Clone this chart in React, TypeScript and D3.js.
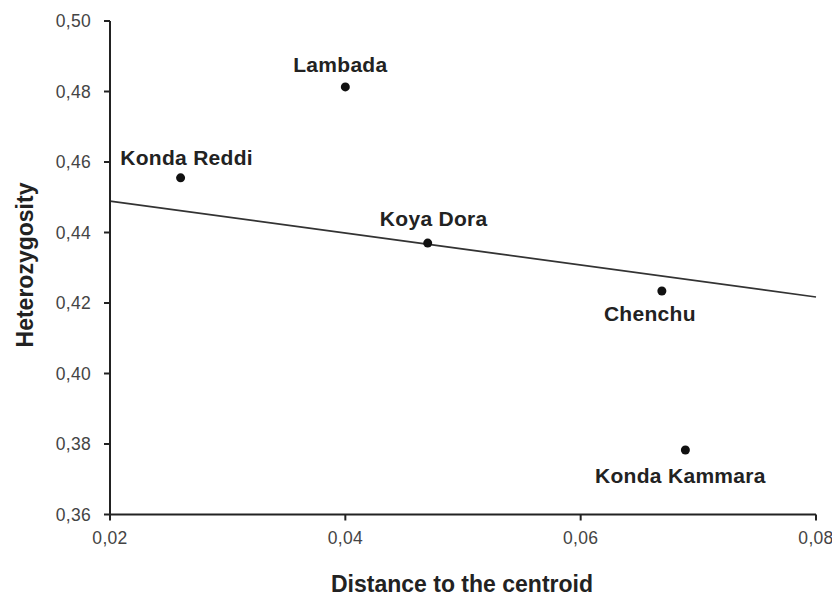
import React from "react";
import * as d3 from "d3";

const populations = ["Lambada", "Konda Reddi", "Koya Dora", "Chenchu", "Konda Kammara"];
const distance = [0.040, 0.026, 0.047, 0.0669, 0.0689];
const heterozygosity = [0.4813, 0.4555, 0.437, 0.4234, 0.3783];
const xTicks = [0.02, 0.04, 0.06, 0.08];
const yTicks = [0.36, 0.38, 0.40, 0.42, 0.44, 0.46, 0.48, 0.50];
const trendX = [0.02, 0.08];
const trendY = [0.4489, 0.4217];
const labelOffsets: [number, number][] = [[-5, -15], [6, -13], [6, -17], [-12, 30], [-5, 33]];

const W = 832, H = 598;
const left = 110, right = 816, top = 21, bottom = 514.5;

export default function App() {
  const x = d3.scaleLinear().domain([0.02, 0.08]).range([left, right]);
  const y = d3.scaleLinear().domain([0.36, 0.50]).range([bottom, top]);
  const fmt = (v: number) => v.toFixed(2).replace(".", ",");
  const line = d3.line<number>().x((_, i) => x(trendX[i])).y((d) => y(d));
  const font = "'Liberation Sans', Arial, sans-serif";
  return (
    <svg width={W} height={H} style={{ position: "absolute", left: 0, top: 0, background: "#fff" }} fontFamily={font}>
      <rect width={W} height={H} fill="#fff" />
      <path d={line(trendY) || ""} stroke="#333" strokeWidth={1.7} fill="none" />
      <line x1={left} x2={left} y1={top} y2={bottom} stroke="#222" strokeWidth={2} />
      <line x1={left} x2={right} y1={bottom} y2={bottom} stroke="#222" strokeWidth={2} />
      {yTicks.map((t) => (
        <g key={"y" + t}>
          <line x1={left - 6} x2={left} y1={y(t)} y2={y(t)} stroke="#222" strokeWidth={2} />
          <text x={91} y={y(t)} dy="0.36em" textAnchor="end" fontSize={17.5} letterSpacing={0.3} fill="#444">{fmt(t)}</text>
        </g>
      ))}
      {xTicks.map((t) => (
        <g key={"x" + t}>
          <line x1={x(t)} x2={x(t)} y1={bottom} y2={bottom + 6} stroke="#222" strokeWidth={2} />
          <text x={x(t)} y={bottom + 29} textAnchor="middle" fontSize={17.5} letterSpacing={0.3} fill="#444">{fmt(t)}</text>
        </g>
      ))}
      {populations.map((p, i) => {
        const px = x(distance[i]);
        const py = y(heterozygosity[i]);
        return (
          <g key={p}>
            <circle cx={px} cy={py} r={4.5} fill="#111" />
            <text x={px + labelOffsets[i][0]} y={py + labelOffsets[i][1]} textAnchor="middle" fontSize={21} letterSpacing={0.3} fontWeight="bold" fill="#222">{p}</text>
          </g>
        );
      })}
      <text x={462} y={592} textAnchor="middle" fontSize={23} fontWeight="bold" fill="#222">Distance to the centroid</text>
      <text transform={`translate(33,265) rotate(-90)`} textAnchor="middle" fontSize={23} fontWeight="bold" fill="#222">Heterozygosity</text>
    </svg>
  );
}
